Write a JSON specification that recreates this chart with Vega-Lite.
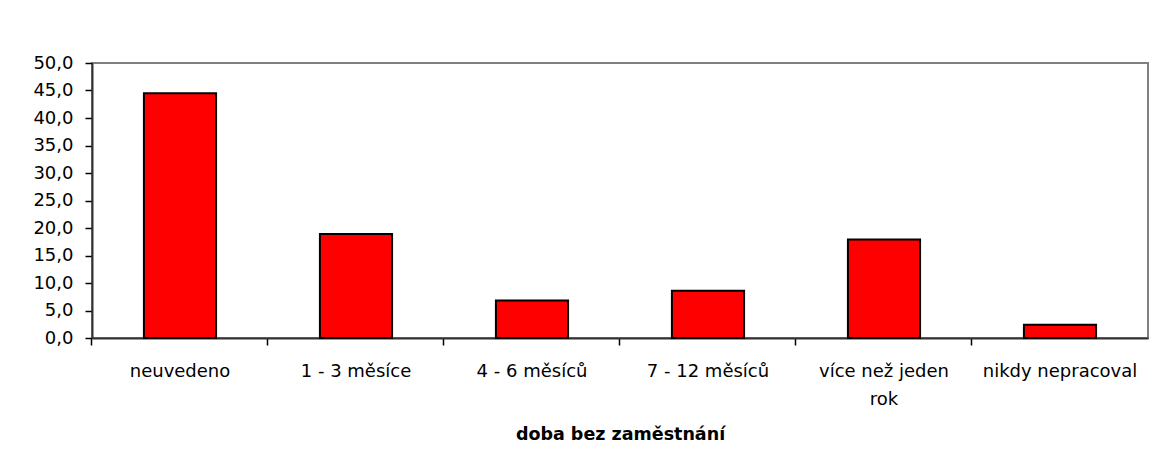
{
  "$schema": "https://vega.github.io/schema/vega-lite/v6.json",
  "width": 1056,
  "height": 275,
  "autosize": "none",
  "padding": {"left": 92, "top": 63, "right": 9, "bottom": 131},
  "background": "white",
  "config": {
    "font": "DejaVu Sans",
    "view": {"stroke": "#808080", "strokeWidth": 2}
  },
  "data": {
    "values": [
      {"doba": "neuvedeno", "hodnota": 44.5},
      {"doba": "1 - 3 měsíce", "hodnota": 18.9},
      {"doba": "4 - 6 měsíců", "hodnota": 6.8},
      {"doba": "7 - 12 měsíců", "hodnota": 8.6},
      {"doba": "více než jeden rok", "hodnota": 17.9},
      {"doba": "nikdy nepracoval", "hodnota": 2.4}
    ]
  },
  "mark": {"type": "bar", "fill": "#FF0000", "stroke": "#000000", "strokeWidth": 2},
  "encoding": {
    "x": {
      "field": "doba",
      "type": "nominal",
      "sort": null,
      "scale": {"paddingInner": 0.59, "paddingOuter": 0.295},
      "axis": {
        "title": "doba bez zaměstnání",
        "titleFont": "DejaVu Sans",
        "titleFontSize": 17.5,
        "titleFontWeight": "bold",
        "titleColor": "#000000",
        "titlePadding": 17,
        "labelAngle": 0,
        "labelFontSize": 18,
        "labelColor": "#000000",
        "labelBaseline": "alphabetic",
        "labelPadding": 31,
        "labelLineHeight": 28,
        "labelExpr": "datum.label == 'více než jeden rok' ? ['více než jeden', 'rok'] : datum.label",
        "bandPosition": -0.72,
        "tickSize": 7,
        "tickColor": "#000000",
        "tickWidth": 1.5,
        "domainColor": "#333333",
        "domainWidth": 2,
        "labelLimit": 300
      }
    },
    "y": {
      "field": "hodnota",
      "type": "quantitative",
      "scale": {"domain": [0, 50], "nice": false},
      "axis": {
        "title": null,
        "values": [0, 5, 10, 15, 20, 25, 30, 35, 40, 45, 50],
        "labelExpr": "replace(format(datum.value, '.1f'), '.', ',')",
        "labelFontSize": 18,
        "labelColor": "#000000",
        "labelPadding": 12,
        "tickSize": 7,
        "tickColor": "#000000",
        "tickWidth": 1.5,
        "domainColor": "#333333",
        "domainWidth": 2,
        "grid": false
      }
    }
  }
}
